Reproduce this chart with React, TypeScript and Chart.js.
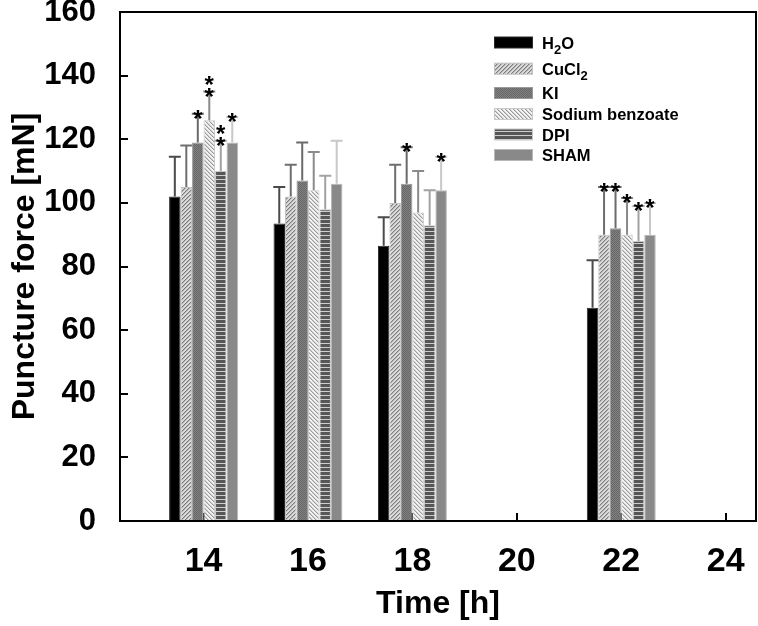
import React, { useEffect, useRef } from 'react';
import { Chart, registerables } from 'chart.js';

Chart.register(...registerables);

// ---------- data ----------
const times = [14, 16, 18, 22];
const xTickValues = [14, 16, 18, 20, 22, 24];
const seriesLabels = ['H2O', 'CuCl2', 'KI', 'Sodium benzoate', 'DPI', 'SHAM'];

const h2oMeans = [102, 93.5, 86.5, 67];
const h2oErr = [12.5, 11.5, 9, 15];
const cucl2Means = [105, 102, 100, 90];
const cucl2Err = [13, 10, 12, 15];
const kiMeans = [119, 107, 106, 92];
const kiErr = [9, 12, 11.5, 13];
const sbMeans = [126, 104, 97, 90];
const sbErr = [9, 12, 13, 11.5];
const dpiMeans = [110, 98, 93, 88];
const dpiErr = [9.5, 10.5, 11, 11];
const shamMeans = [119, 106, 104, 90];
const shamErr = [8, 13.5, 10.5, 10];

const h2oSig = ['', '', '', ''];
const cucl2Sig = ['', '', '', '*'];
const kiSig = ['*', '', '*', '*'];
const sbSig = ['**', '', '', '*'];
const dpiSig = ['**', '', '', '*'];
const shamSig = ['*', '', '*', '*'];

const FONT = '"Liberation Sans", Arial, Helvetica, sans-serif';

function makePattern(w: number, h: number, fn: (x: number, y: number) => string) {
  const c = document.createElement('canvas');
  c.width = w;
  c.height = h;
  const g = c.getContext('2d')!;
  for (let y = 0; y < h; y++) {
    for (let x = 0; x < w; x++) {
      g.fillStyle = fn(x, y);
      g.fillRect(x, y, 1, 1);
    }
  }
  return g.createPattern(c, 'repeat')!;
}

function buildFills() {
  const h2o = '#000000';
  const cucl2 = makePattern(4, 4, (x, y) => ((x + y) % 4 === 0 ? '#7c7c7c' : (x + y) % 4 === 1 ? '#b4b4b4' : '#dadada'));
  const ki = makePattern(2, 2, (x, y) => ((x + y) % 2 === 0 ? '#676767' : '#818181'));
  const sb = makePattern(4, 4, (x, y) => (((x - y) % 4 + 4) % 4 === 0 ? '#9a9a9a' : (((x - y) % 4 + 4) % 4 === 1 ? '#cfcfcf' : '#f2f2f2')));
  const dpi = makePattern(1, 4, (_x, y) => (y === 3 ? '#cdcdcd' : '#565656'));
  const sham = '#898989';
  return [h2o, cucl2, ki, sb, dpi, sham];
}

const errColors = ['#4a4a4a', '#6e6e6e', '#6a6a6a', '#8a8a8a', '#a2a2a2', '#c8c8c8'];
const borderColors = ['#2a2a2a', '#c2c2c2', '#9a9a9a', '#c8c8c8', '#c8c8c8', '#b8b8b8'];

function drawRich(ctx: CanvasRenderingContext2D, text: string, x: number, y: number) {
  let cx = x;
  for (const ch of text) {
    const sub = /\d/.test(ch);
    ctx.font = sub ? `bold 13px ${FONT}` : `bold 16.5px ${FONT}`;
    ctx.fillText(ch, cx, sub ? y + 5 : y);
    cx += ctx.measureText(ch).width;
  }
}

export default function App() {
  const ref = useRef<HTMLCanvasElement | null>(null);

  useEffect(() => {
    if (!ref.current) return;
    const fills = buildFills();
    const means = [h2oMeans, cucl2Means, kiMeans, sbMeans, dpiMeans, shamMeans];
    const errs = [h2oErr, cucl2Err, kiErr, sbErr, dpiErr, shamErr];
    const sigs = [h2oSig, cucl2Sig, kiSig, sbSig, dpiSig, shamSig];

    const decor = {
      id: 'decor',
      beforeDatasetsDraw(chart: any) {
        const { ctx, chartArea: a, scales } = chart;
        const x = scales.x, y = scales.y;
        ctx.save();
        ctx.strokeStyle = '#000';
        ctx.lineWidth = 2;
        ctx.beginPath();
        y.ticks.forEach((t: any) => {
          const py = Math.round(y.getPixelForValue(t.value));
          ctx.moveTo(a.left, py);
          ctx.lineTo(a.left + 8, py);
        });
        x.ticks.forEach((t: any) => {
          const px = Math.round(x.getPixelForValue(t.value));
          ctx.moveTo(px, a.bottom);
          ctx.lineTo(px, a.bottom - 8);
        });
        ctx.stroke();
        ctx.restore();
      },
      afterDatasetsDraw(chart: any) {
        const { ctx, chartArea: a, scales } = chart;
        const y = scales.y;
        ctx.save();
        means.forEach((_m, di) => {
          const meta = chart.getDatasetMeta(di);
          meta.data.forEach((bar: any, j: number) => {
            const top = y.getPixelForValue(means[di][j] + errs[di][j]);
            const base = bar.y;
            ctx.strokeStyle = errColors[di];
            ctx.lineWidth = 2;
            ctx.beginPath();
            ctx.moveTo(bar.x, base);
            ctx.lineTo(bar.x, top);
            ctx.moveTo(bar.x - 6, top);
            ctx.lineTo(bar.x + 6, top);
            ctx.stroke();
            const s = sigs[di][j];
            ctx.fillStyle = '#000';
            ctx.font = `bold 24px ${FONT}`;
            ctx.textAlign = 'center';
            ctx.textBaseline = 'alphabetic';
            for (let k = 0; k < s.length; k++) {
              ctx.fillText('*', bar.x, top + 13 - k * 12);
            }
          });
        });
        ctx.strokeStyle = '#000';
        ctx.lineWidth = 2;
        ctx.strokeRect(a.left, a.top, a.right - a.left, a.bottom - a.top);
        ctx.restore();
      },
      afterDraw(chart: any) {
        const { ctx, chartArea: a } = chart;
        const left = a.right - 262;
        const rowY = [42.5, 68.7, 93, 114, 134.5, 155];
        ctx.save();
        seriesLabels.forEach((label, i) => {
          const cy = rowY[i];
          ctx.fillStyle = fills[i] as any;
          ctx.fillRect(left, cy - 5.5, 39, 11);
          ctx.strokeStyle = borderColors[i];
          ctx.lineWidth = 1;
          ctx.strokeRect(left + 0.5, cy - 5.5, 38, 11);
          ctx.fillStyle = '#000';
          ctx.textAlign = 'left';
          ctx.textBaseline = 'alphabetic';
          drawRich(ctx, label, left + 48, cy + 6);
        });
        ctx.restore();
      },
    };

    const chart = new Chart(ref.current, {
      type: 'bar',
      data: {
        datasets: seriesLabels.map((label, i) => ({
          label,
          data: times.map((t, j) => ({ x: t, y: means[i][j] })),
          backgroundColor: fills[i] as any,
          borderColor: borderColors[i],
          borderWidth: 1,
          categoryPercentage: 0.66,
          barPercentage: 1,
        })),
      },
      options: {
        responsive: false,
        animation: false,
        layout: { padding: { top: 12, right: 2, left: 0, bottom: 0 } },
        plugins: { legend: { display: false }, tooltip: { enabled: false } },
        scales: {
          x: {
            type: 'linear',
            offset: false,
            min: 12.4,
            max: 24.58,
            grid: { display: false, offset: false },
            border: { display: false },
            afterBuildTicks: (scale: any) => {
              scale.ticks = xTickValues.map((v) => ({ value: v }));
            },
            afterFit: (scale: any) => {
              scale.height = 105;
              scale.paddingLeft = 0;
              scale.paddingRight = 0;
            },
            ticks: {
              color: '#000',
              font: { family: FONT, size: 34, weight: 'bold' },
              padding: 12,
              maxRotation: 0,
              autoSkip: false,
              callback: (v: any) => String(v),
            },
            title: {
              display: true,
              text: 'Time [h]',
              color: '#000',
              font: { family: FONT, size: 32, weight: 'bold' },
              padding: { top: 0, bottom: 3 },
            },
          },
          y: {
            min: 0,
            max: 160,
            grid: { display: false },
            border: { display: false },
            afterFit: (scale: any) => {
              scale.width = 120;
              scale.paddingTop = 0;
              scale.paddingBottom = 0;
            },
            ticks: {
              stepSize: 20,
              color: '#000',
              font: { family: FONT, size: 31, weight: 'bold' },
              padding: 16,
            },
            title: {
              display: true,
              text: 'Puncture force [mN]',
              color: '#000',
              font: { family: FONT, size: 32, weight: 'bold' },
              padding: { top: 6, bottom: 0 },
            },
          },
        },
      } as any,
      plugins: [decor],
    });
    return () => chart.destroy();
  }, []);

  return (
    <div style={{ position: 'absolute', left: 0, top: 0, width: 758, height: 626 }}>
      <canvas ref={ref} width={758} height={626} style={{ display: 'block' }} />
    </div>
  );
}
